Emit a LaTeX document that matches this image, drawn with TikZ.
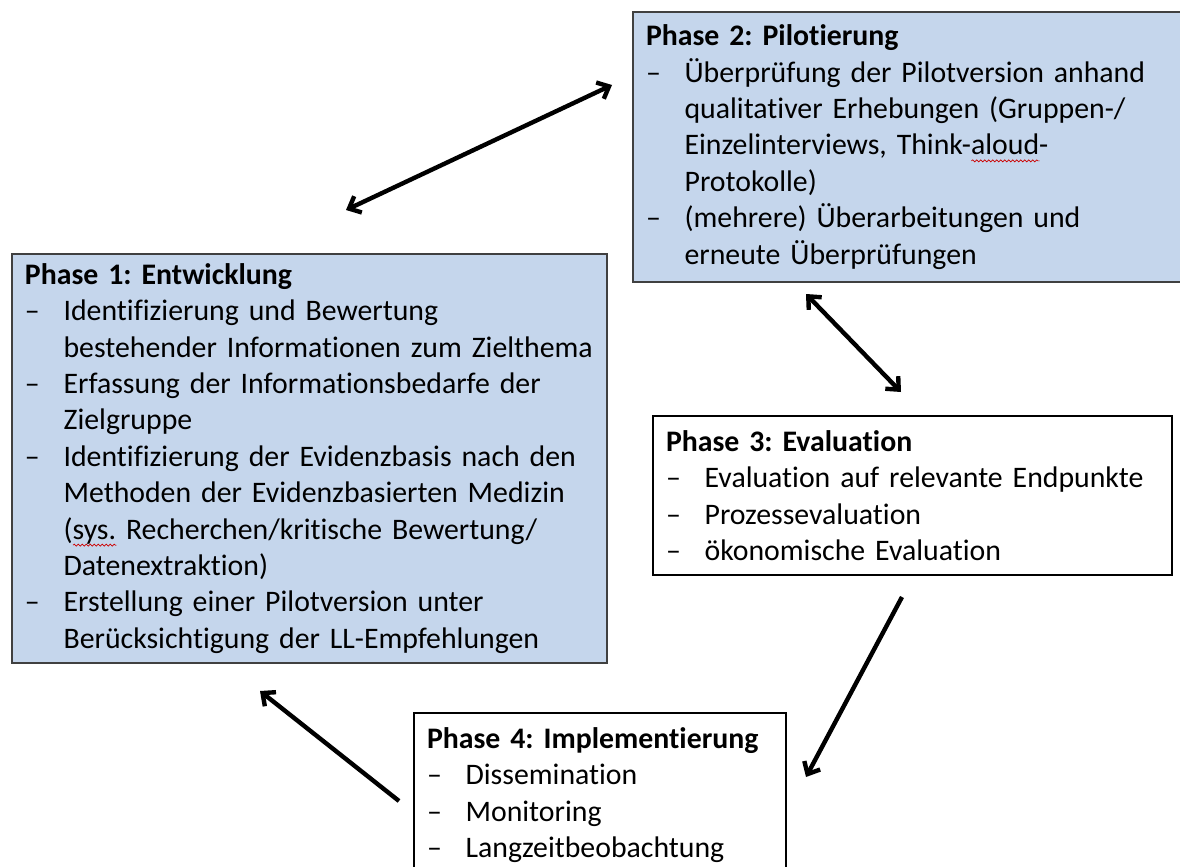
\documentclass[tikz,border=0pt]{standalone}
\usepackage{fontspec}
\setmainfont{Carlito}[Ligatures=NoCommon]
\usetikzlibrary{arrows.meta,decorations.pathmorphing}

\definecolor{phaseblue}{RGB}{197,214,236}
\definecolor{phaseline}{RGB}{64,64,64}

\newlength\hangw \setlength\hangw{19.3pt}
\newcommand\itm[1]{\makebox[\hangw][l]{–}#1}
\newcommand\cnt[1]{\hspace*{\hangw}#1}
\newcommand\head[1]{\mbox{\textbf{#1}}}
% spell check squiggle
\newsavebox\spellbox \newlength\spellw
\newcommand\spell[1]{\sbox\spellbox{#1}\setlength\spellw{\wd\spellbox}%
  \rlap{\tikz[baseline=0pt]\draw[red!80!black,line width=0.35pt,decorate,
    decoration={snake,amplitude=0.5pt,segment length=2pt}] (0pt,-3pt) -- (\spellw,-3pt);}%
  \usebox\spellbox}

\tikzset{
  phase/.style={draw, line width=1pt, anchor=north west, inner xsep=6.5pt, inner ysep=0pt,
    align=left, font={\fontsize{14.9}{18.2}\selectfont\frenchspacing\setlength\parindent{0pt}}},
  bluephase/.style={phase, fill=phaseblue, draw=phaseline},
  link/.style={line width=2.2pt, arrows={Straight Barb[length=5pt,width=9pt]-Straight Barb[length=5pt,width=9pt]}},
  flow/.style={line width=2.2pt, arrows={-Straight Barb[length=5pt,width=9pt]}}
}

\begin{document}
\begin{tikzpicture}[x=0.5pt,y=-0.5pt]
  \clip (0,0) rectangle (1180,867);

  \node[bluephase,text width=284.5pt,minimum height=204.5pt] (p1) at (11,253) {%
    \head{Phase 1: Entwicklung}\\
    \itm{Identifizierung und Bewertung}\\
    \cnt{bestehender Informationen zum Zielthema}\\
    \itm{Erfassung der Informationsbedarfe der}\\
    \cnt{Zielgruppe}\\
    \itm{Identifizierung der Evidenzbasis nach den}\\
    \cnt{Methoden der Evidenzbasierten Medizin}\\
    \cnt{(\spell{sys.} Recherchen/kritische Bewertung/}\\
    \cnt{Datenextraktion)}\\
    \itm{Erstellung einer Pilotversion unter}\\
    \cnt{Berücksichtigung der LL-Empfehlungen}};

  \node[bluephase,text width=262pt,minimum height=135pt] (p2) at (632,11) {%
    \head{Phase 2: Pilotierung}\\
    \itm{Überprüfung der Pilotversion anhand}\\
    \cnt{qualitativer Erhebungen (Gruppen-/}\\
    \cnt{Einzelinterviews, Think-\spell{aloud}-}\\
    \cnt{Protokolle)}\\
    \itm{(mehrere) Überarbeitungen und}\\
    \cnt{erneute Überprüfungen}};

  \node[phase,text width=246.5pt,minimum height=79.5pt] (p3) at (652,415) {%
    \head{Phase 3: Evaluation}\\
    \itm{Evaluation auf relevante Endpunkte}\\
    \itm{Prozessevaluation}\\
    \itm{ökonomische Evaluation}};

  \node[phase,text width=173pt,minimum height=82pt] (p4) at (413,712) {%
    \head{Phase 4: Implementierung}\\
    \itm{Dissemination}\\
    \itm{Monitoring}\\
    \itm{Langzeitbeobachtung}};

  % loose arrow ends around the boxes
  \coordinate (a1) at (346,210);  \coordinate (a2) at (612,85);
  \coordinate (b1) at (806,294);  \coordinate (b2) at (901,392);
  \coordinate (c1) at (902,597);  \coordinate (c2) at (806,777);
  \coordinate (d1) at (399,801);  \coordinate (d2) at (260,691);

  \draw[link] (a1) -- (a2);
  \draw[link] (b1) -- (b2);
  \draw[flow] (c1) -- (c2);
  \draw[flow] (d1) -- (d2);
\end{tikzpicture}
\end{document}
